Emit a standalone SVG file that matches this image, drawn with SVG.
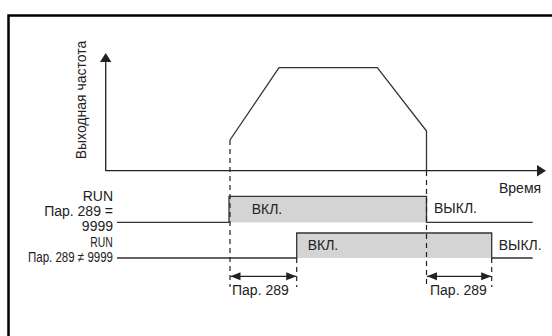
<svg xmlns="http://www.w3.org/2000/svg" width="552" height="336" viewBox="0 0 552 336">
<style>
text{font-family:"Liberation Sans",Arial,sans-serif;font-size:14px;fill:#222}
.ax{stroke:#222;stroke-width:1.3;fill:none}
.sig{stroke:#333;stroke-width:1.3;fill:none}
.dash{stroke:#222;stroke-width:1.2;stroke-dasharray:5,4;fill:none}
.on{fill:#d4d4d4;stroke:none}
</style>
<defs>
<marker id="ah" viewBox="0 0 10 10" refX="10" refY="5" markerWidth="10" markerHeight="10" markerUnits="userSpaceOnUse" orient="auto-start-reverse"><path d="M0,1 L10,5 L0,9 Z" fill="#222"/></marker>
<marker id="big" viewBox="0 0 10 10" refX="10" refY="5" markerWidth="10" markerHeight="12" markerUnits="userSpaceOnUse" orient="auto"><path d="M0,0 L10,5 L0,10 Z" fill="#222"/></marker>
</defs>
<rect x="8.5" y="15.5" width="580" height="360" fill="none" stroke="#000" stroke-width="2.5"/>
<g id="axes">
<polyline class="ax" points="105.7,62 105.7,170.7 538,170.7"/>
<path d="M100,62 L105.7,53 L111.4,62 Z" fill="#222"/>
<path d="M537,165 L546,170.7 L537,176.4 Z" fill="#222"/>
<text transform="translate(86,100) rotate(-90)" text-anchor="middle" font-size="13">Выходная частота</text>
<text x="499" y="193">Время</text>
</g>
<g id="frequency">
<polyline class="sig" points="230,140 279,67.7 377.3,67.7 426.5,131 426.5,170.7"/>
</g>
<g id="run1">
<rect class="on" x="229" y="196.3" width="197.5" height="26"/>
<polyline class="sig" points="117,222.3 229,222.3 229,196.3 426.5,196.3 426.5,222.3 532.7,222.3"/>
<text x="117" y="200.7" text-anchor="end" dx="-4">RUN</text>
<text x="113" y="216.3" text-anchor="end">Пар. 289 =</text>
<text x="113" y="231.3" text-anchor="end">9999</text>
<text x="251.7" y="213.5">ВКЛ.</text>
<text x="434" y="213">ВЫКЛ.</text>
</g>
<g id="run2">
<rect class="on" x="296.7" y="233" width="195" height="25"/>
<polyline class="sig" points="117,258 296.7,258 296.7,233 491.7,233 491.7,258 532.7,258"/>
<text x="112.7" y="247.3" text-anchor="end" textLength="22.5" lengthAdjust="spacingAndGlyphs">RUN</text>
<text x="28" y="262.3" textLength="85" lengthAdjust="spacingAndGlyphs">Пар. 289 ≠ 9999</text>
<text x="307.7" y="250.3">ВКЛ.</text>
<text x="498.7" y="250">ВЫКЛ.</text>
</g>
<g id="connectors">
<line class="dash" x1="230" y1="140" x2="230" y2="287"/>
<line class="dash" x1="426.5" y1="171" x2="426.5" y2="287"/>
<line class="dash" x1="296.7" y1="258" x2="296.7" y2="287"/>
<line class="dash" x1="491.7" y1="258" x2="491.7" y2="287"/>
<line class="ax" x1="230.5" y1="276.3" x2="296.2" y2="276.3" marker-start="url(#ah)" marker-end="url(#ah)"/>
<line class="ax" x1="427" y1="276.3" x2="491.2" y2="276.3" marker-start="url(#ah)" marker-end="url(#ah)"/>
</g>
<g id="dim-labels">
<text x="232" y="295">Пар. 289</text>
<text x="430" y="295">Пар. 289</text>
</g>
</svg>
